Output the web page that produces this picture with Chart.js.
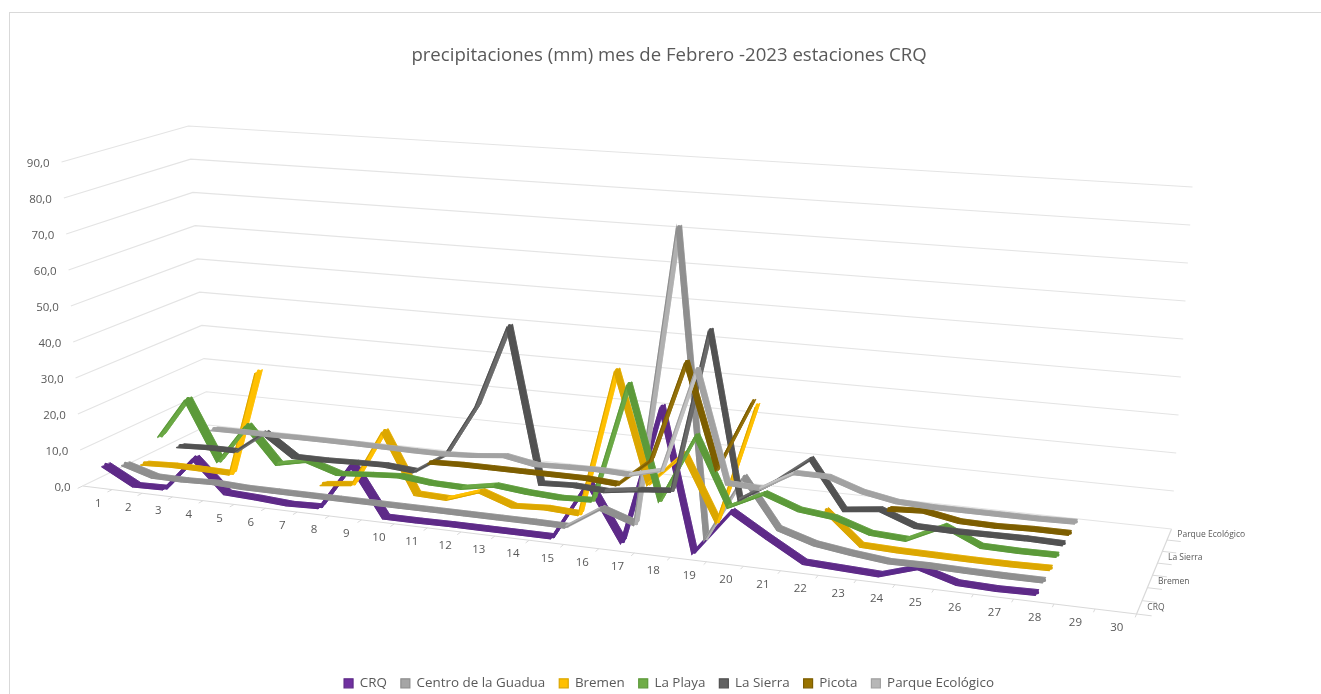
<!DOCTYPE html>
<html><head><meta charset="utf-8">
<style>
html,body{margin:0;padding:0;background:#fff;overflow:hidden;width:1321px;height:694px}
#frame{position:absolute;left:9px;top:12px;width:1320px;height:690px;border:1px solid #d9d9d9;box-sizing:border-box}
canvas{position:absolute;left:9px;top:12px}
</style>
<script src="https://cdn.jsdelivr.net/npm/chart.js@4/dist/chart.umd.min.js"></script>
</head><body>
<div id="frame"></div>
<canvas id="c" width="1320" height="688"></canvas>
<script>
const chartTitle = 'precipitaciones (mm) mes de Febrero -2023 estaciones CRQ';
const days = [1,2,3,4,5,6,7,8,9,10,11,12,13,14,15,16,17,18,19,20,21,22,23,24,25,26,27,28,29,30];
const valueTicks = [0,10,20,30,40,50,60,70,80,90];
const depthTickLabels = ['CRQ',null,'Bremen',null,'La Sierra',null,'Parque Ecológico'];
const seriesNames = ['CRQ','Centro de la Guadua','Bremen','La Playa','La Sierra','Picota','Parque Ecológico'];

const crq    = [5.1,0.5,0.7,10,1.4,1,0.4,0.7,13.2,0,0,0.1,0.1,0.1,0.1,15.4,1,36.7,0.5,12,6.5,1.3,0.9,0.5,3.4,0.7,0.4,0.6,null,null];
const centro = [2.8,0.3,0.2,0.5,0.1,0.1,0.1,0.1,0.1,0.1,0.1,0.1,0.1,0.1,0,5.8,2.8,81,1,18,5.8,3,1.7,0.7,0.8,0.6,0.5,0.5,null,null];
const bremen = [0.4,0.8,0.7,0.5,30,null,0.5,1.5,17,0.8,0.5,3.5,0.5,1,0.5,39.7,10.5,19.5,2.6,34,null,8.7,0.8,0.5,0.4,0.3,0.3,0.5,null,null];
const playa  = [5.8,17.3,0.5,11.6,1.6,3.4,0.7,1.4,2,1,0.8,2.4,1.5,1,1.4,33.7,3.4,21.7,3.8,8.3,5,4,1,0.5,5,0.9,0.7,0.8,null,null];
const sierra = [0.4,0.8,0.8,7,1,1,1.3,1.5,0.8,6.4,21,44,1.3,1.7,1.2,2.5,3.3,47.7,3,8.7,15.8,3.3,4.4,1,0.8,0.9,1,0.8,null,null];
const picota = [null,null,null,null,null,null,null,null,0.7,1,1,1,1,1,0.4,8,36,7.5,27,null,null,null,1.7,2.2,0.5,0.3,0.6,0.6,null,null];
const parque = [0.5,0.6,0.6,0.7,0.7,0.7,0.6,0.5,0.5,1,1.9,0.3,0.6,0.8,0.4,2.7,31.8,1,0.5,5.8,5.7,2.6,0.9,0.5,0.5,0.5,0.5,0.7,null,null];
const seriesValues = [crq,centro,bremen,playa,sierra,picota,parque];

const legendColors = ['#7030a0','#a5a5a5','#ffc000','#70ad47','#636363','#997300','#b7b7b7'];
const faceColors   = ['#5e2a88','#8f8f8f','#dca700','#5c9a3a','#525252','#7d5e00','#a2a2a2'];
const riseColors   = ['#5a2a8c','#b0b0b0','#ffc000','#6aa844','#6a6a6a','#93700a','#c0c0c0'];

// perspective box: page-pixel corners of the 3D floor and of its top
const floorQuad = [[82,486],[1137,614],[1172,529],[208,425]];
const topQuad   = [[61,162],[1158,235.5],[1193,187],[188,126]];
const valueMax = 90, ribbon = 0.22;

function homography(q){
  const [[x0,y0],[x1,y1],[x2,y2],[x3,y3]] = q;
  const sx=x0-x1+x2-x3, sy=y0-y1+y2-y3, dx1=x1-x2, dx2=x3-x2, dy1=y1-y2, dy2=y3-y2;
  const den=dx1*dy2-dx2*dy1, g=(sx*dy2-dx2*sy)/den, h=(dx1*sy-sx*dy1)/den;
  const a=x1-x0+g*x1, b=x3-x0+h*x3, d=y1-y0+g*y1, e=y3-y0+h*y3;
  return (u,t)=>{const w=g*u+h*t+1;return [(a*u+b*t+x0)/w,(d*u+e*t+y0)/w];};
}
const floorH = homography(floorQuad), topH = homography(topQuad);
function project(u,t,v){
  const f=floorH(u,t), p=topH(u,t), k=v/valueMax;
  return {x:f[0]+(p[0]-f[0])*k, y:f[1]+(p[1]-f[1])*k};
}

const datasets=[];
const thin = (data,color,w)=>({data,borderColor:color,borderWidth:w,pointRadius:0,fill:false,order:100,spanGaps:false,tension:0});
// walls
valueTicks.forEach(v=>datasets.push(thin([project(0,0,v),project(0,1,v),project(1,1,v)],'#e4e4e4',1.2)));
// floor edges and tick marks
datasets.push(thin([project(0,0,0),project(1,0,0)],'#d9d9d9',1.2));
datasets.push(thin([project(1,0,0),project(1,1,0)],'#d9d9d9',1.2));
const br={x:NaN,y:NaN};
const tickMarks=[];
days.forEach((d,i)=>{tickMarks.push(project(i/30,0,0),project(i/30,-0.035,0),br);});
tickMarks.push(project(1,0,0),project(1,-0.035,0),br);
datasets.push(thin(tickMarks,'#d9d9d9',1));
const sideTicks=[];
seriesNames.forEach((s,i)=>{sideTicks.push(project(1,i/7,0),project(1.012,i/7,0),br);});
datasets.push(thin(sideTicks,'#d9d9d9',1));

seriesValues.forEach((vals,s)=>{
  const edge=(off)=>vals.map((v,i)=>{
    if(v===null) return {x:project((i+0.5)/30,(s+0.5+off)/7,0).x,y:null};
    return project((i+0.5)/30,(s+0.5+off)/7,v);
  });
  const order=10+(7-s)*2;
  datasets.push({label:'_back'+s,data:edge(ribbon),borderColor:riseColors[s],borderWidth:0.8,pointRadius:0,fill:false,order:order,spanGaps:false,tension:0});
  datasets.push({label:seriesNames[s],inLegend:true,series:s,data:edge(-ribbon),borderColor:faceColors[s],backgroundColor:legendColors[s],borderWidth:1.2,pointRadius:0,
    fill:false,order:order-1,spanGaps:false,tension:0});
});

// joins the two edge lines of a station into a 3D ribbon, segment by segment
const ribbons={id:'ribbons',beforeDatasetDraw(chart,args){
  const ds=chart.data.datasets[args.index];
  if(ds.series===undefined) return;
  const f=args.meta.data, b=chart.getDatasetMeta(args.index-1).data, ctx=chart.ctx;
  ctx.save();ctx.lineJoin='round';ctx.lineCap='round';
  for(let i=0;i<f.length-1;i++){
    if(f[i].skip||f[i+1].skip) continue;
    const col=f[i+1].y<f[i].y-1?riseColors[ds.series]:faceColors[ds.series];
    ctx.fillStyle=col;ctx.strokeStyle=col;
    ctx.lineWidth=0.6;
    ctx.beginPath();ctx.moveTo(f[i].x,f[i].y);ctx.lineTo(f[i+1].x,f[i+1].y);ctx.lineTo(b[i+1].x,b[i+1].y);ctx.lineTo(b[i].x,b[i].y);ctx.closePath();
    ctx.fill();ctx.stroke();
    ctx.lineWidth=3.6;
    ctx.beginPath();ctx.moveTo((f[i].x+b[i].x)/2,(f[i].y+b[i].y)/2);ctx.lineTo((f[i+1].x+b[i+1].x)/2,(f[i+1].y+b[i+1].y)/2);ctx.stroke();
  }
  ctx.restore();
}};

const axisText={id:'axisText',afterDatasetsDraw(chart){
  const {ctx,scales:{x,y}}=chart;
  ctx.save();ctx.fillStyle='#595959';ctx.textBaseline='middle';
  ctx.font='11.5px "Open Sans"';ctx.textAlign='right';
  valueTicks.forEach(v=>{
    const p=project(0,0,v);
    ctx.fillText(v.toFixed(1).replace('.',','),x.getPixelForValue(p.x)-12,y.getPixelForValue(p.y)+2);
  });
  ctx.textAlign='center';
  days.forEach((d,i)=>{
    const p=project((i+0.5)/30,0,0);
    ctx.fillText(String(d),x.getPixelForValue(p.x)+1,y.getPixelForValue(p.y)+16);
  });
  ctx.font='8.5px "Open Sans"';ctx.textAlign='left';
  depthTickLabels.forEach((l,i)=>{
    if(!l) return;
    const p=project(1,(i+0.5)/7,0);
    ctx.fillText(l,x.getPixelForValue(p.x)+8,y.getPixelForValue(p.y)+0.5);
  });
  ctx.restore();
}};

const chart=new Chart(document.getElementById('c'),{
  type:'line',
  data:{datasets},
  plugins:[ribbons,axisText],
  options:{
    responsive:false,animation:false,parsing:true,normalized:false,
    layout:{padding:{top:33,bottom:0}},
    scales:{
      x:{type:'linear',display:false,min:0,max:1321},
      y:{type:'linear',display:false,reverse:true,min:0,max:694}
    },
    plugins:{
      title:{display:true,text:chartTitle,color:'#595959',font:{family:'"Open Sans"',size:18.6,weight:'normal'},padding:{top:0,bottom:0}},
      legend:{position:'bottom',labels:{
        color:'#595959',font:{family:'"Open Sans"',size:13.4},boxWidth:9,boxHeight:9,padding:14,
        filter:(item,data)=>data.datasets[item.datasetIndex].inLegend===true,
        sort:(a,b)=>a.datasetIndex-b.datasetIndex
      }},
      tooltip:{enabled:false}
    }
  }
});
const a=chart.chartArea;
chart.options.scales.x.min=a.left+9;chart.options.scales.x.max=a.right+9;
chart.options.scales.y.min=a.top+12;chart.options.scales.y.max=a.bottom+12;
chart.update();
</script>
</body></html>
